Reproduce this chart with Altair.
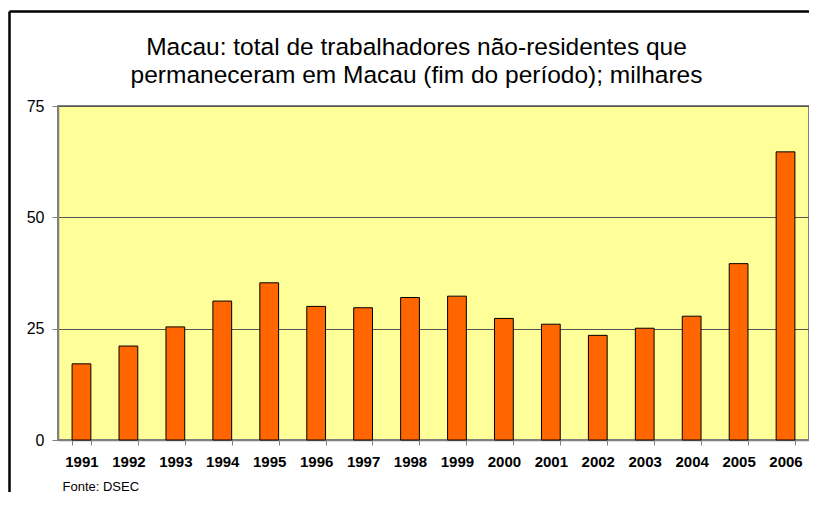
import altair as alt
import pandas as pd

years = ["1991", "1992", "1993", "1994", "1995", "1996", "1997", "1998",
         "1999", "2000", "2001", "2002", "2003", "2004", "2005", "2006"]
values = [17.1, 21.1, 25.4, 31.2, 35.3, 30.0, 29.7, 32.0,
          32.3, 27.3, 26.0, 23.5, 25.1, 27.8, 39.6, 64.7]
title_lines = ["Macau: total de trabalhadores não-residentes que",
               "permaneceram em Macau (fim do período); milhares"]
source_note = "Fonte: DSEC"
y_ticks = [0, 25, 50, 75]

df = pd.DataFrame({"ano": years, "valor": values})
FONT = "Liberation Sans"

bars = alt.Chart(df).mark_bar(
    color="#FF6600", stroke="#000000", strokeWidth=1
).encode(
    x=alt.X("ano:N", sort=years,
            scale=alt.Scale(paddingInner=0.6, paddingOuter=0.3),
            axis=alt.Axis(title=source_note, labelAngle=0, labelFontWeight="bold",
                          labelFontSize=15, labelFont=FONT, labelColor="#000000",
                          labelPadding=9, tickSize=5, tickBand="extent",
                          tickColor="#808080", domainColor="#808080", domainWidth=1.5,
                          titleFont=FONT, titleFontSize=13, titleFontWeight="normal",
                          titleAnchor="start", titleAlign="left", titleBaseline="alphabetic",
                          titleX=4, titleY=50, titleColor="#000000")),
    y=alt.Y("valor:Q", scale=alt.Scale(domain=[0, 75], nice=False),
            axis=alt.Axis(title=None, values=y_ticks, labelFontSize=16, labelFont=FONT,
                          labelColor="#000000", labelPadding=8, tickSize=6,
                          tickColor="#808080", domainColor="#808080", domainWidth=1.5,
                          grid=True, gridColor="#555555", gridWidth=1)),
)

one = alt.Data(values=[{}])
frame_top = alt.Chart(one).mark_rule(color="#000000", strokeWidth=2.5).encode(
    x=alt.value(-48.5), x2=alt.value(760), y=alt.value(-94.5)
)
frame_left = alt.Chart(one).mark_rule(color="#000000", strokeWidth=2.5).encode(
    x=alt.value(-48.5), y=alt.value(-94.5), y2=alt.value(420)
)

title1 = alt.Chart(one).mark_text(
    font=FONT, fontSize=24.5, color="#000000", align="center", baseline="alphabetic"
).encode(x=alt.value(358.5), y=alt.value(-51), text=alt.value(title_lines[0]))

title2 = alt.Chart(one).mark_text(
    font=FONT, fontSize=24.5, color="#000000", align="center", baseline="alphabetic"
).encode(x=alt.value(358.5), y=alt.value(-22.7), text=alt.value(title_lines[1]))

chart = alt.layer(frame_top, frame_left, title1, title2, bars).properties(
    width=751, height=334,
    autosize=alt.AutoSizeParams(type="none"),
    padding={"left": 50, "top": 98, "right": 0, "bottom": 52},
    background="#FFFFFF",
).configure_view(
    fill="#FFFF99", stroke="#808080", strokeWidth=2
)

chart.save("out.html", embed_options={"renderer": "svg", "actions": False})
